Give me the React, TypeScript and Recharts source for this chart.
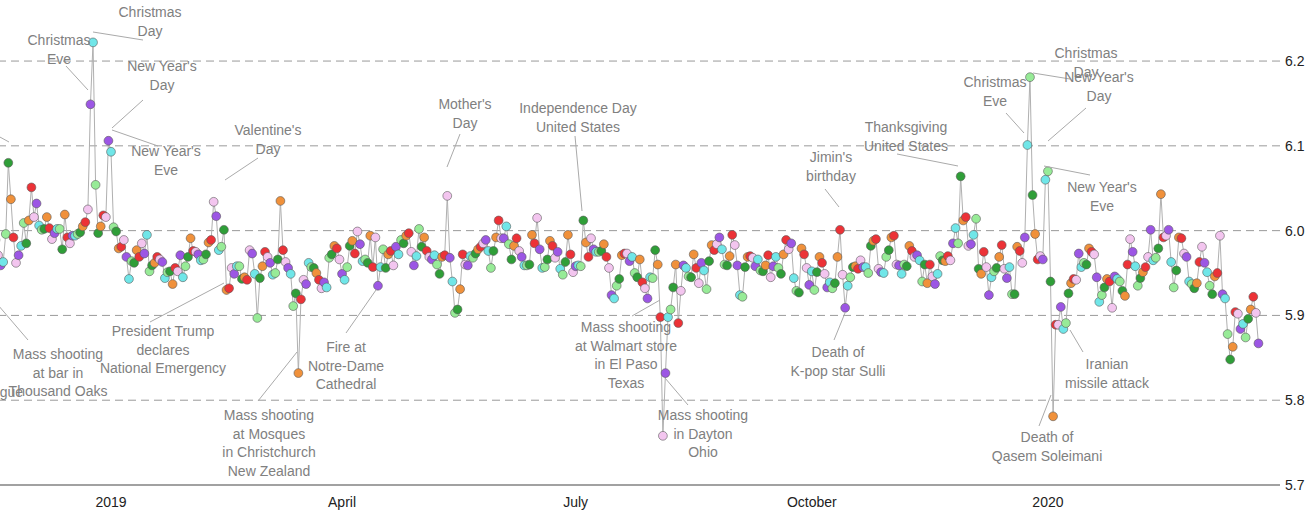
import React from 'react';
import { LineChart, Line, XAxis, YAxis, ReferenceLine } from 'recharts';

// Daily average happiness, starting 2018-11-17 (one value per day)
const START = { y: 2018, m: 10, d: 17 };
const happiness: number[] = [
  // Nov 17 - Dec 28, 2018
  5.989, 5.971, 5.959, 5.963, 5.996, 6.080, 6.037,
  5.992, 5.962, 5.971, 5.982, 6.009, 5.985, 6.012,
  6.051, 6.016, 6.032, 6.006, 6.001, 6.002, 6.016,
  6.003, 5.990, 5.997, 6.002, 6.002, 5.978, 6.019,
  5.992, 5.985, 5.994, 5.994, 5.996, 5.998, 6.005,
  6.010, 6.025, 6.149, 6.222, 6.054, 5.997, 6.005,
  6.018, 6.016, 6.106, 6.093, 6.004, 5.999, 5.979,
  // 2019
  5.981, 5.989, 5.969, 5.943, 5.964, 5.962, 5.977,
  5.969, 5.985, 5.973, 5.995, 5.952, 5.959, 5.962,
  5.969, 5.966, 5.963, 5.944, 5.951, 5.952, 5.937,
  5.956, 5.952, 5.971, 5.945, 5.958, 5.969, 5.991,
  5.976, 5.975, 5.972, 5.965, 5.966, 5.972, 5.986,
  5.989, 6.034, 6.017, 5.977, 5.981, 6.001, 5.930,
  5.932, 5.956, 5.949, 5.958, 5.958, 5.943, 5.945,
  5.942, 5.977, 5.973, 5.949, 5.897, 5.944, 5.958,
  5.975, 5.969, 5.962, 5.948, 5.950, 5.966, 6.035,
  5.977, 5.963, 5.956, 5.949, 5.911, 5.926, 5.832,
  5.919, 5.942, 5.937, 5.962, 5.957, 5.956, 5.950,
  5.942, 5.932, 5.939, 5.933, 5.968, 5.972, 5.982,
  5.979, 5.966, 5.949, 5.942, 5.957, 5.982, 5.988,
  5.973, 5.999, 5.984, 5.964, 5.966, 5.962, 5.994,
  5.957, 5.992, 5.935, 5.957, 5.978, 5.956, 5.972,
  5.976, 5.959, 5.981, 5.972, 5.989, 5.985, 5.994,
  5.997, 5.975, 5.959, 5.970, 6.002, 5.981, 5.992,
  5.976, 5.969, 5.966, 5.971, 5.960, 5.949, 5.969,
  5.971, 6.041, 5.968, 5.940, 5.903, 5.907, 5.931,
  5.972, 5.960, 5.959, 5.970, 5.968, 5.973, 5.978,
  5.981, 5.985, 5.989, 5.976, 5.956, 5.976, 5.992,
  6.012, 5.991, 5.991, 6.005, 5.984, 5.966, 5.982,
  5.991, 5.976, 5.969, 5.959, 5.959, 5.960, 5.995,
  5.985, 6.015, 5.978, 5.956, 5.957, 5.966, 5.988,
  5.982, 5.968, 5.975, 5.955, 5.948, 5.963, 5.995,
  5.972, 5.951, 5.958, 5.959, 5.958, 6.012, 5.986,
  5.969, 5.991, 5.978, 5.975, 5.975, 5.976, 5.984,
  5.969, 5.956, 5.924, 5.920, 5.935, 5.943, 5.971,
  5.973, 5.973, 5.964, 5.969, 5.950, 5.945, 5.966,
  5.939, 5.932, 5.920, 5.945, 5.944, 5.977, 5.960,
  5.898, 5.758, 5.832, 5.898, 5.907, 5.933, 5.960,
  5.891, 5.929, 5.959, 5.956, 5.946, 5.945, 5.972,
  5.956, 5.938, 5.962, 5.953, 5.931, 5.964, 5.983,
  5.977, 5.984, 5.992, 5.978, 5.960, 5.959, 5.970,
  5.995, 5.983, 5.959, 5.924, 5.922, 5.957, 5.969,
  5.970, 5.968, 5.958, 5.966, 5.953, 5.952, 5.959,
  5.971, 5.945, 5.958, 5.969, 5.956, 5.949, 5.972,
  5.989, 5.978, 5.985, 5.944, 5.929, 5.927, 5.979,
  5.972, 5.956, 5.936, 5.952, 5.930, 5.951, 5.969,
  5.962, 5.949, 5.933, 5.939, 5.932, 5.938, 5.969,
  6.001, 5.948, 5.909, 5.935, 5.945, 5.957, 5.958,
  5.955, 5.965, 5.957, 5.957, 5.950, 5.982, 5.988,
  5.990, 5.955, 5.951, 5.950, 5.969, 5.977, 5.992,
  5.994, 5.960, 5.959, 5.949, 5.960, 5.958, 5.982,
  5.976, 5.969, 5.971, 5.965, 5.940, 5.960, 5.938,
  5.960, 5.946, 5.937, 5.949, 5.970, 5.965, 5.964,
  5.970, 5.965, 5.985, 6.003, 5.985, 6.064, 6.012,
  6.016, 5.982, 5.984, 5.995, 6.014, 5.955, 5.949,
  5.975, 5.957, 5.924, 5.945, 5.952, 5.956, 5.969,
  5.983, 5.955, 5.944, 5.957, 5.925, 5.925, 5.981,
  5.976, 5.962, 5.992, 6.101, 6.181, 6.042, 5.996,
  5.966, 5.970, 5.966, 6.060, 6.070, 5.940, 5.781,
  // 2020
  5.889, 5.889, 5.910, 5.884, 5.891, 5.926, 5.938,
  5.943, 5.942, 5.973, 5.957, 5.962, 5.960, 5.979,
  5.975, 5.972, 5.945, 5.916, 5.924, 5.933, 5.943,
  5.940, 5.909, 5.946, 5.943, 5.940, 5.929, 5.923,
  5.960, 5.990, 5.975, 5.958, 5.935, 5.944, 5.951,
  5.957, 5.969, 6.001, 5.965, 5.968, 5.979, 6.043,
  5.992, 5.994, 6.001, 5.963, 5.933, 5.953, 5.992,
  5.991, 5.973, 5.969, 5.940, 5.937, 5.932, 5.938,
  5.963, 5.981, 5.962, 5.951, 5.935, 5.925, 5.946,
  5.950, 5.994, 5.925, 5.920, 5.878, 5.848, 5.863,
  5.904, 5.902, 5.884, 5.890, 5.874, 5.896, 5.907,
  5.922, 5.903, 5.867,
];

const tickDays = [0, 90, 181, 273, 365];
const tickLabels = ['2019', 'April', 'July', 'October', '2020'];
const yTicks = [5.7, 5.8, 5.9, 6.0, 6.1, 6.2];
const gridValues = [5.8, 5.9, 6.0, 6.1, 6.2];
// Sunday .. Saturday
const weekdayColors = ['#f3c5ef', '#9c56e4', '#70e6e8', '#97eb97', '#2f9e38', '#f0913b', '#ec3237'];

type Note = { lines: string[]; x: number; y: number; lead?: [number, number, number, number]; anchor?: 'middle' | 'end' | 'start' };
const notes: Note[] = [
  { lines: ['Christmas', 'Day'], x: 150, y: 12, lead: [93, 32, 143, 40] },
  { lines: ['Christmas', 'Eve'], x: 59, y: 40, lead: [66, 66, 88, 90] },
  { lines: ["New Year's", 'Day'], x: 162, y: 66, lead: [112, 128, 143, 100] },
  { lines: ["New Year's", 'Eve'], x: 166, y: 151, lead: [112, 130, 158, 146] },
  { lines: ["Valentine's", 'Day'], x: 268, y: 130, lead: [225, 180, 258, 158] },
  { lines: ["Mother's", 'Day'], x: 465, y: 104, lead: [447, 167, 460, 134] },
  { lines: ['Independence Day', 'United States'], x: 578, y: 108, lead: [575, 136, 582, 211] },
  { lines: ["Jimin's", 'birthday'], x: 831, y: 157, lead: [825, 189, 839, 207] },
  { lines: ['Thanksgiving', 'United States'], x: 906, y: 127, lead: [897, 154, 958, 166] },
  { lines: ['Christmas', 'Eve'], x: 995, y: 82, lead: [1006, 113, 1024, 133] },
  { lines: ['Christmas', 'Day'], x: 1086, y: 53, lead: [1033, 73, 1070, 79] },
  { lines: ["New Year's", 'Day'], x: 1099, y: 77, lead: [1048, 141, 1086, 108] },
  { lines: ["New Year's", 'Eve'], x: 1102, y: 187, lead: [1044, 166, 1090, 175] },
  { lines: ['Death of', 'Qasem Soleimani'], x: 1047, y: 437, lead: [1039, 426, 1051, 395] },
  { lines: ['Iranian', 'missile attack'], x: 1107, y: 364, lead: [1070, 330, 1083, 352] },
  { lines: ['Mass shooting', 'in Dayton', 'Ohio'], x: 703, y: 415, lead: [665, 378, 688, 405] },
  { lines: ['Mass shooting', 'at Walmart store', 'in El Paso', 'Texas'], x: 626, y: 327, lead: [632, 316, 660, 300] },
  { lines: ['Death of', 'K-pop star Sulli'], x: 838, y: 352, lead: [834, 340, 845, 313] },
  { lines: ['Fire at', 'Notre-Dame', 'Cathedral'], x: 346, y: 347, lead: [346, 333, 376, 290] },
  { lines: ['Mass shooting', 'at Mosques', 'in Christchurch', 'New Zealand'], x: 269, y: 415, lead: [258, 401, 297, 352] },
  { lines: ['President Trump', 'declares', 'National Emergency'], x: 163, y: 331, lead: [150, 322, 224, 283] },
  { lines: ['Mass shooting', 'at bar in', 'Thousand Oaks'], x: 58, y: 354, lead: [-2, 305, 28, 340] },
  { lines: ['synagogue'], x: 23, y: 392, anchor: 'end' },
  { lines: [], x: 0, y: 0, lead: [-2, 136, 9, 142] },
];

const DAY_MS = 86400000;
const startMs = Date.UTC(START.y, START.m, START.d);
const originMs = Date.UTC(2019, 0, 1);
const data = happiness.map((value, i) => {
  const ms = startMs + i * DAY_MS;
  return { day: Math.round((ms - originMs) / DAY_MS), value, weekday: new Date(ms).getUTCDay() };
});

const renderDot = (props: any) => {
  const { cx, cy, payload, index } = props;
  if (cx == null || cy == null) return <g key={index} />;
  return (
    <circle key={index} cx={cx} cy={cy} r={4.4} fill={weekdayColors[payload.weekday]} stroke="#5a5a5a" strokeWidth={0.6} />
  );
};

const XTick = (props: any) => {
  const { x, payload } = props;
  const idx = tickDays.indexOf(payload.value);
  return (
    <text x={x} y={502} textAnchor="middle" dominantBaseline="central" fill="#222" fontSize={14}>
      {tickLabels[idx]}
    </text>
  );
};

const YTick = (props: any) => {
  const { y, payload } = props;
  return (
    <text x={1285} y={y} textAnchor="start" dominantBaseline="central" fill="#222" fontSize={14}>
      {Number(payload.value).toFixed(1)}
    </text>
  );
};

export default function App() {
  return (
    <div style={{ position: 'absolute', left: 0, top: 0, width: 1310, height: 512, fontFamily: '"Liberation Sans", Arial, sans-serif', background: '#fff' }}>
      <LineChart width={1310} height={512} data={data} margin={{ top: 0, right: 0, bottom: 0, left: 0 }}>
        <XAxis
          dataKey="day"
          type="number"
          domain={[-43.24, 455.4]}
          allowDataOverflow
          ticks={tickDays}
          tick={<XTick />}
          tickLine={false}
          axisLine={{ stroke: '#444', strokeWidth: 1.2 }}
          height={27}
          interval={0}
        />
        <YAxis
          orientation="right"
          type="number"
          domain={[5.7, 6.272]}
          allowDataOverflow
          ticks={yTicks}
          tick={<YTick />}
          axisLine={false}
          tickLine={false}
          width={30}
          interval={0}
        />
        {gridValues.map((g) => (
          <ReferenceLine key={g} y={g} stroke="#9a9a9a" strokeDasharray="8 5" strokeWidth={1} />
        ))}
        <Line
          type="linear"
          dataKey="value"
          stroke="#b0b0b0"
          strokeWidth={1}
          dot={renderDot}
          activeDot={false}
          isAnimationActive={false}
        />
      </LineChart>
      <svg width={1310} height={512} style={{ position: 'absolute', left: 0, top: 0, pointerEvents: 'none' }}>
        {notes.map((n, i) => (
          <g key={i}>
            {n.lead && (
              <line x1={n.lead[0]} y1={n.lead[1]} x2={n.lead[2]} y2={n.lead[3]} stroke="#aaaaaa" strokeWidth={1} />
            )}
            {n.lines.map((t, j) => (
              <text
                key={j}
                x={n.x}
                y={n.y + j * 18.7}
                textAnchor={n.anchor || 'middle'}
                dominantBaseline="central"
                fill="#808080"
                fontSize={14}
                fontFamily='"Liberation Sans", Arial, sans-serif'
              >
                {t}
              </text>
            ))}
          </g>
        ))}
      </svg>
    </div>
  );
}
